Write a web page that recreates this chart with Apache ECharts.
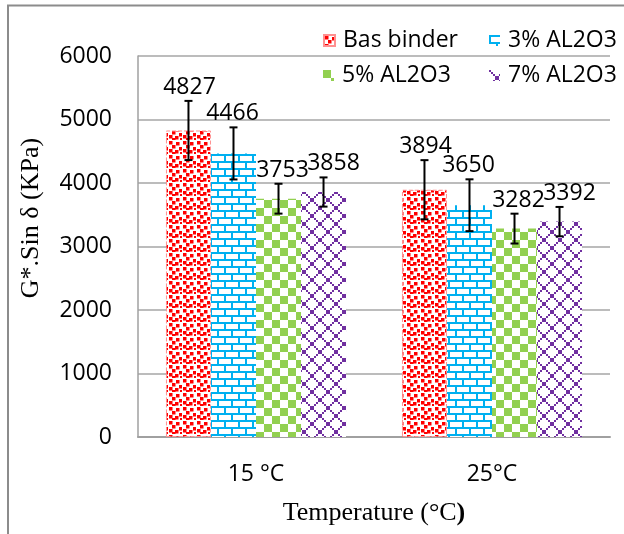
<!DOCTYPE html>
<html>
<head>
<meta charset="utf-8">
<script src="https://cdn.jsdelivr.net/npm/echarts@6/dist/echarts.min.js"></script>
<style>
html,body{margin:0;padding:0;background:#fff;}
#chart{width:624px;height:534px;}
</style>
</head>
<body>
<div id="chart"></div>
<script>
// ---- Data ----
var categories = ['15 °C', '25°C'];
var seriesNames = ['Bas binder', '3% AL2O3', '5% AL2O3', '7% AL2O3'];
var basBinder = [4827, 3894];
var al3 = [4466, 3650];
var al5 = [3753, 3282];
var al7 = [3858, 3392];
var errBas = [466, 466];
var err3 = [410, 408];
var err5 = [235, 235];
var err7 = [230, 231];
var yTicks = [0, 1000, 2000, 3000, 4000, 5000, 6000];

var values = [basBinder, al3, al5, al7];
var errors = [errBas, err3, err5, err7];

// ---- Patterns ----
function mk(w, h, draw) {
  var c = document.createElement('canvas');
  c.width = w; c.height = h;
  var ctx = c.getContext('2d');
  ctx.fillStyle = '#ffffff';
  ctx.fillRect(0, 0, w, h);
  draw(ctx);
  return {image: c, repeat: 'repeat'};
}
var redPat = mk(14, 14, function (ctx) {
  ctx.fillStyle = '#ff0000';
  var pts = [[1,1],[8,2],[4,5],[11,7],[1,9],[7,10],[12,12],[4,12]];
  pts.forEach(function (p) { ctx.fillRect(p[0], p[1], 3.5, 3.5); });
});
var bluePat = mk(14, 14, function (ctx) {
  ctx.fillStyle = '#00b0f0';
  ctx.fillRect(0, 0, 14, 2);
  ctx.fillRect(0, 7, 14, 2);
  ctx.fillRect(0, 0, 2, 7);
  ctx.fillRect(7, 7, 2, 7);
});
var greenPat = mk(16, 16, function (ctx) {
  ctx.fillStyle = '#92d050';
  ctx.fillRect(0, 0, 8, 8);
  ctx.fillRect(8, 8, 8, 8);
});
var purplePat = mk(16, 16, function (ctx) {
  ctx.fillStyle = '#7030a0';
  for (var i = 0; i < 16; i += 2) {
    ctx.fillRect(i, i, 2, 2);
    ctx.fillRect(14 - i, i, 2, 2);
  }
});
var patterns = [redPat, bluePat, greenPat, purplePat];

var FONT = '"Open Sans", "Noto Sans", sans-serif';
var CAT_GAP = 0.237;
var labelShift = [1, -1, 4, 10];

var series = [];
seriesNames.forEach(function (name, i) {
  series.push({
    name: name,
    type: 'bar',
    data: values[i],
    barGap: '0%',
    barCategoryGap: (CAT_GAP * 100) + '%',
    itemStyle: i === 0 ? {color: patterns[i], borderColor: '#ff9090', borderWidth: 1, borderType: 'dashed'} : {color: patterns[i]},
    z: 2
  });
});

var errData = [];
for (var s = 0; s < seriesNames.length; s++) {
  for (var c = 0; c < categories.length; c++) {
    errData.push([c, s, values[s][c], errors[s][c]]);
  }
}

series.push({
  type: 'custom',
  name: 'err',
  data: errData,
  encode: {x: 0, y: 2},
  z: 5,
  clip: false,
  renderItem: function (params, api) {
    var cat = api.value(0), si = api.value(1), v = api.value(2), e = api.value(3);
    var band = api.size([1, 0])[0];
    var bw = band * (1 - CAT_GAP) / 4;
    var base = api.coord([cat, v]);
    var x = base[0] + (si - 1.5) * bw;
    var top = api.coord([cat, v + e])[1];
    var bot = api.coord([cat, v - e])[1];
    var cap = 4;
    var ls = {stroke: '#000', lineWidth: 2};
    return {
      type: 'group',
      children: [
        {type: 'line', shape: {x1: x, y1: top, x2: x, y2: bot}, style: ls},
        {type: 'line', shape: {x1: x - cap, y1: top, x2: x + cap, y2: top}, style: ls},
        {type: 'line', shape: {x1: x - cap, y1: bot, x2: x + cap, y2: bot}, style: ls},
        {type: 'text', x: x + labelShift[si], y: top - 2,
          style: {text: String(v), font: '23px ' + FONT, fill: '#000',
            align: 'center', verticalAlign: 'bottom', textAlign: 'center', textVerticalAlign: 'bottom'}}
      ]
    };
  }
});

var legendPos = [[318, 24], [484, 24], [318, 59], [484, 59]];
var legends = seriesNames.map(function (n, i) {
  return {
    data: [n],
    left: legendPos[i][0],
    top: legendPos[i][1],
    itemWidth: 11,
    itemHeight: 11,
    icon: 'rect',
    textStyle: {fontFamily: FONT, fontSize: 23, color: '#000', padding: [0, 0, 0, 3]}
  };
});

var chart = echarts.init(document.getElementById('chart'), null, {renderer: 'canvas'});
chart.setOption({
  animation: false,
  backgroundColor: '#fff',
  legend: legends,
  grid: {left: 138, right: 14, top: 56, bottom: 97, containLabel: false},
  xAxis: {
    type: 'category',
    data: categories,
    axisTick: {show: false},
    axisLine: {lineStyle: {color: '#a0a0a0', width: 2}},
    axisLabel: {fontFamily: FONT, fontSize: 23, color: '#000', margin: 26},
    name: '{a|Temperature (°C}{b|)}',
    nameLocation: 'middle',
    nameGap: 63,
    nameTextStyle: {
      rich: {
        a: {fontFamily: '"Liberation Serif", serif', fontSize: 26, color: '#000'},
        b: {fontFamily: '"Liberation Serif", serif', fontSize: 26, color: '#000', fontWeight: 'bold'}
      }
    }
  },
  yAxis: {
    type: 'value',
    min: yTicks[0],
    max: yTicks[yTicks.length - 1],
    interval: 1000,
    axisLine: {show: true, lineStyle: {color: '#a0a0a0', width: 1.5}},
    axisTick: {show: false},
    splitLine: {lineStyle: {color: '#a6a6a6', width: 1.5}},
    axisLabel: {fontFamily: FONT, fontSize: 23, color: '#000', margin: 26,
      formatter: function (v) { return String(v); }}
  },
  graphic: [
    {type: 'rect', shape: {x: 8, y: 5.5, width: 700, height: 600},
      style: {fill: 'none', stroke: '#8c8c8c', lineWidth: 2}, silent: true, z: -1},
    {type: 'text', x: 31, y: 218, rotation: Math.PI / 2,
      style: {text: 'G*.Sin δ (KPa)', font: '26px "Liberation Serif", serif', fill: '#000',
        align: 'center', verticalAlign: 'middle', textAlign: 'center', textVerticalAlign: 'middle'}}
  ],
  series: series
});
</script>
</body>
</html>
